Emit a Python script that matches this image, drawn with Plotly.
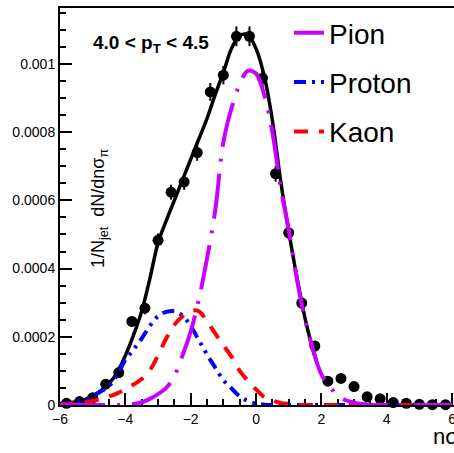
import plotly.graph_objects as go

FONT = "Liberation Sans, Arial, Helvetica, sans-serif"

# ---- data points (nsigma_pi bins) ----
data_x = [-5.8, -5.4, -5.0, -4.6, -4.2, -3.8, -3.4, -3.0, -2.6, -2.2, -1.8, -1.4, -1.0, -0.6, -0.2,
          0.2, 0.6, 1.0, 1.4, 1.8, 2.2, 2.6, 3.0, 3.4, 3.8, 4.2, 4.6, 5.0, 5.4, 5.8]
data_y = [5e-6, 1.0e-5, 2.1e-5, 6.1e-5, 9.5e-5, 2.45e-4, 2.84e-4, 4.83e-4, 6.24e-4, 6.54e-4,
          7.4e-4, 9.18e-4, 9.67e-4, 1.081e-3, 1.081e-3, 9.58e-4, 6.78e-4, 5.05e-4, 2.99e-4, 1.73e-4,
          7.0e-5, 7.8e-5, 5.4e-5, 2.4e-5, 1.8e-5, 7e-6, 5e-6, 2e-6, 1e-6, 1e-6]
data_err = [3e-6, 4e-6, 6e-6, 1e-5, 1.2e-5, 1.6e-5, 1.8e-5, 2.0e-5, 2.2e-5, 2.3e-5,
            2.4e-5, 2.6e-5, 2.7e-5, 2.9e-5, 2.9e-5, 2.7e-5, 2.3e-5, 2.0e-5, 1.6e-5, 1.2e-5,
            8e-6, 8e-6, 7e-6, 5e-6, 4e-6, 3e-6, 3e-6, 2e-6, 2e-6, 2e-6]

# ---- curves ----
curve_x = [-6.0, -5.75, -5.5, -5.25, -5.0, -4.75, -4.5, -4.25, -4.0, -3.75, -3.5, -3.25, -3.0,
           -2.75, -2.5, -2.25, -2.0, -1.75, -1.5, -1.25, -1.0, -0.75, -0.5, -0.25, 0.0,
           0.25, 0.5, 0.75, 1.0, 1.25, 1.5, 1.75, 2.0, 2.25, 2.5, 2.75, 3.0, 3.25, 3.5,
           3.75, 4.0, 4.25, 4.5, 4.75, 5.0, 5.25, 5.5, 5.75, 6.0]

pion_y = [0, 0, 0, 0, 0, 0, 0, 0, 0, 3e-6, 8e-6, 1.8e-5, 3.2e-5,
          5.0e-5, 8.5e-5, 1.45e-4, 2.15e-4, 3.1e-4, 4.3e-4, 5.7e-4, 7.7e-4, 8.7e-4, 9.4e-4, 9.8e-4, 9.72e-4,
          9.1e-4, 8.0e-4, 6.4e-4, 5.15e-4, 3.7e-4, 2.5e-4, 1.6e-4, 9e-5, 5.5e-5, 2.8e-5, 1.4e-5, 7e-6, 3e-6, 1e-6,
          0, 0, 0, 0, 0, 0, 0, 0, 0, 0]

proton_y = [3e-6, 5e-6, 9e-6, 1.6e-5, 2.6e-5, 4.0e-5, 5.6e-5, 8.7e-5, 1.32e-4, 1.62e-4, 1.95e-4, 2.32e-4, 2.6e-4,
            2.73e-4, 2.75e-4, 2.62e-4, 2.32e-4, 1.9e-4, 1.48e-4, 1.1e-4, 7.3e-5, 4.9e-5, 2.5e-5, 1.2e-5, 4e-6,
            1e-6, 0, 0, 0, 0, 0, 0, 0, 0, 0, 0, 0, 0, 0,
            0, 0, 0, 0, 0, 0, 0, 0, 0, 0]

kaon_y = [2e-6, 3e-6, 5e-6, 8e-6, 1.2e-5, 1.8e-5, 2.5e-5, 3.4e-5, 4.6e-5, 6.0e-5, 7.6e-5, 1.02e-4, 1.45e-4,
          1.95e-4, 2.35e-4, 2.6e-4, 2.76e-4, 2.75e-4, 2.45e-4, 2.1e-4, 1.75e-4, 1.42e-4, 1.0e-4, 7.1e-5, 4.6e-5,
          2.3e-5, 1.3e-5, 6e-6, 3e-6, 1e-6, 0, 0, 0, 0, 0, 0, 0, 0, 0,
          0, 0, 0, 0, 0, 0, 0, 0, 0, 0]

fit_x = [-6.0, -5.75, -5.5, -5.25, -5.0, -4.75, -4.5, -4.25, -4.0, -3.75, -3.5, -3.25, -3.0,
         -2.75, -2.5, -2.25, -2.0, -1.75, -1.5, -1.25, -1.0, -0.75, -0.5, -0.25, 0.0,
         0.25, 0.5, 0.75, 1.0, 1.25, 1.5, 1.75, 1.85]
fit_y = [4e-6, 6e-6, 1.0e-5, 1.6e-5, 2.6e-5, 4.2e-5, 6.3e-5, 9.5e-5, 1.45e-4, 2.05e-4, 2.75e-4, 3.7e-4, 4.75e-4,
         5.4e-4, 6.0e-4, 6.6e-4, 7.2e-4, 7.8e-4, 8.4e-4, 9.1e-4, 9.75e-4, 1.045e-3, 1.083e-3, 1.085e-3, 1.045e-3,
         9.65e-4, 8.35e-4, 6.6e-4, 5.1e-4, 3.75e-4, 2.55e-4, 1.6e-4, 1.3e-4]

x_tick_vals = [-6, -4, -2, 0, 2, 4, 6]
x_tick_text = ["\u22126", "\u22124", "\u22122", "0", "2", "4", "6"]
y_tick_vals = [0, 0.0002, 0.0004, 0.0006, 0.0008, 0.001]
y_tick_text = ["0", "0.0002", "0.0004", "0.0006", "0.0008", "0.001"]

fig = go.Figure()

fig.add_trace(go.Scatter(
    x=data_x, y=data_y, mode="markers",
    marker=dict(color="black", size=11),
    error_y=dict(type="data", array=data_err, color="black", thickness=2, width=0),
    showlegend=False, cliponaxis=False))

fig.add_trace(go.Scatter(
    x=fit_x, y=fit_y, mode="lines", line=dict(color="black", width=3.5, shape="spline"),
    showlegend=False, cliponaxis=False))

fig.add_trace(go.Scatter(
    x=curve_x, y=proton_y, mode="lines", name="Proton", legendgroup="p", legendrank=2,
    line=dict(color="#0000ff", width=4, dash="12px,6px,3px,6px,3px,6px", shape="spline"),
    cliponaxis=False))

fig.add_trace(go.Scatter(
    x=curve_x, y=kaon_y, mode="lines", name="Kaon", legendgroup="k", legendrank=3,
    line=dict(color="#ff0000", width=4, dash="14px,11px", shape="spline"),
    cliponaxis=False))

fig.add_trace(go.Scatter(
    x=curve_x, y=pion_y, mode="lines", name="Pion", legendgroup="pi", legendrank=1,
    line=dict(color="#cc00ff", width=4, dash="45px,12px,3px,12px", shape="spline"),
    cliponaxis=False))

W, H = 454, 453
L, R, T, B = 60, 0, 8, 48
pw, ph = W - L - R, H - T - B

def px(xp):
    return (xp - L) / pw

def py(yp):
    return (H - B - yp) / ph

fig.add_annotation(text="<b>4.0 &lt; p<sub>T</sub> &lt; 4.5</b>", xref="paper", yref="paper",
                   x=px(91), y=py(44), xanchor="left", yanchor="middle", showarrow=False,
                   font=dict(size=19, family=FONT, color="black"))

fig.add_annotation(text="1/N<sub>jet</sub>\u00a0 dN/dn\u03c3<sub>\u03c0</sub>", xref="paper", yref="paper",
                   x=px(99), y=py(209), xanchor="center", yanchor="middle", textangle=-90,
                   showarrow=False, font=dict(size=18, family=FONT, color="black"))

fig.add_annotation(text="n\u03c3<sub>\u03c0</sub>", xref="paper", yref="paper",
                   x=px(431), y=py(438), xanchor="left", yanchor="middle", showarrow=False,
                   font=dict(size=22, family=FONT, color="black"))

# the source canvas cuts the left edge of the long y tick labels
fig.add_shape(type="rect", xref="paper", yref="paper", x0=px(-10), x1=px(12), y0=py(460), y1=py(-5),
              fillcolor="white", line=dict(width=0), layer="above")

fig.update_layout(
    width=W, height=H,
    margin=dict(l=L, r=R, t=T, b=B, autoexpand=False),
    paper_bgcolor="white", plot_bgcolor="white",
    font=dict(family=FONT, color="black"),
    legend=dict(x=289 / W, y=1 - 8 / H, xref="container", yref="container",
                xanchor="left", yanchor="top", bgcolor="rgba(0,0,0,0)",
                font=dict(size=28, family=FONT, color="black"), tracegroupgap=10),
    xaxis=dict(range=[-6, -6 + pw / 32.67], showline=True, linewidth=2, linecolor="black", mirror=True,
               ticks="inside", ticklen=12, tickwidth=2, tickcolor="black",
               tickmode="array", tickvals=x_tick_vals, ticktext=x_tick_text,
               ticklabeloverflow="allow",
               minor=dict(ticks="inside", tickmode="linear", tick0=-6, dtick=0.5, ticklen=6,
                          tickwidth=2, tickcolor="black", showgrid=False),
               showgrid=False, zeroline=False, layer="below traces",
               tickfont=dict(size=14, family=FONT, color="black")),
    yaxis=dict(range=[0, 0.001164], showline=True, linewidth=2, linecolor="black", mirror=False,
               ticks="inside", ticklen=12, tickwidth=2, tickcolor="black",
               tickmode="array", tickvals=y_tick_vals, ticktext=y_tick_text,
               ticklabeloverflow="allow",
               minor=dict(ticks="inside", tickmode="linear", tick0=0, dtick=0.00005, ticklen=6,
                          tickwidth=2, tickcolor="black", showgrid=False),
               showgrid=False, zeroline=False, layer="below traces",
               tickfont=dict(size=14, family=FONT, color="black")),
)

fig.write_html("out.html")
